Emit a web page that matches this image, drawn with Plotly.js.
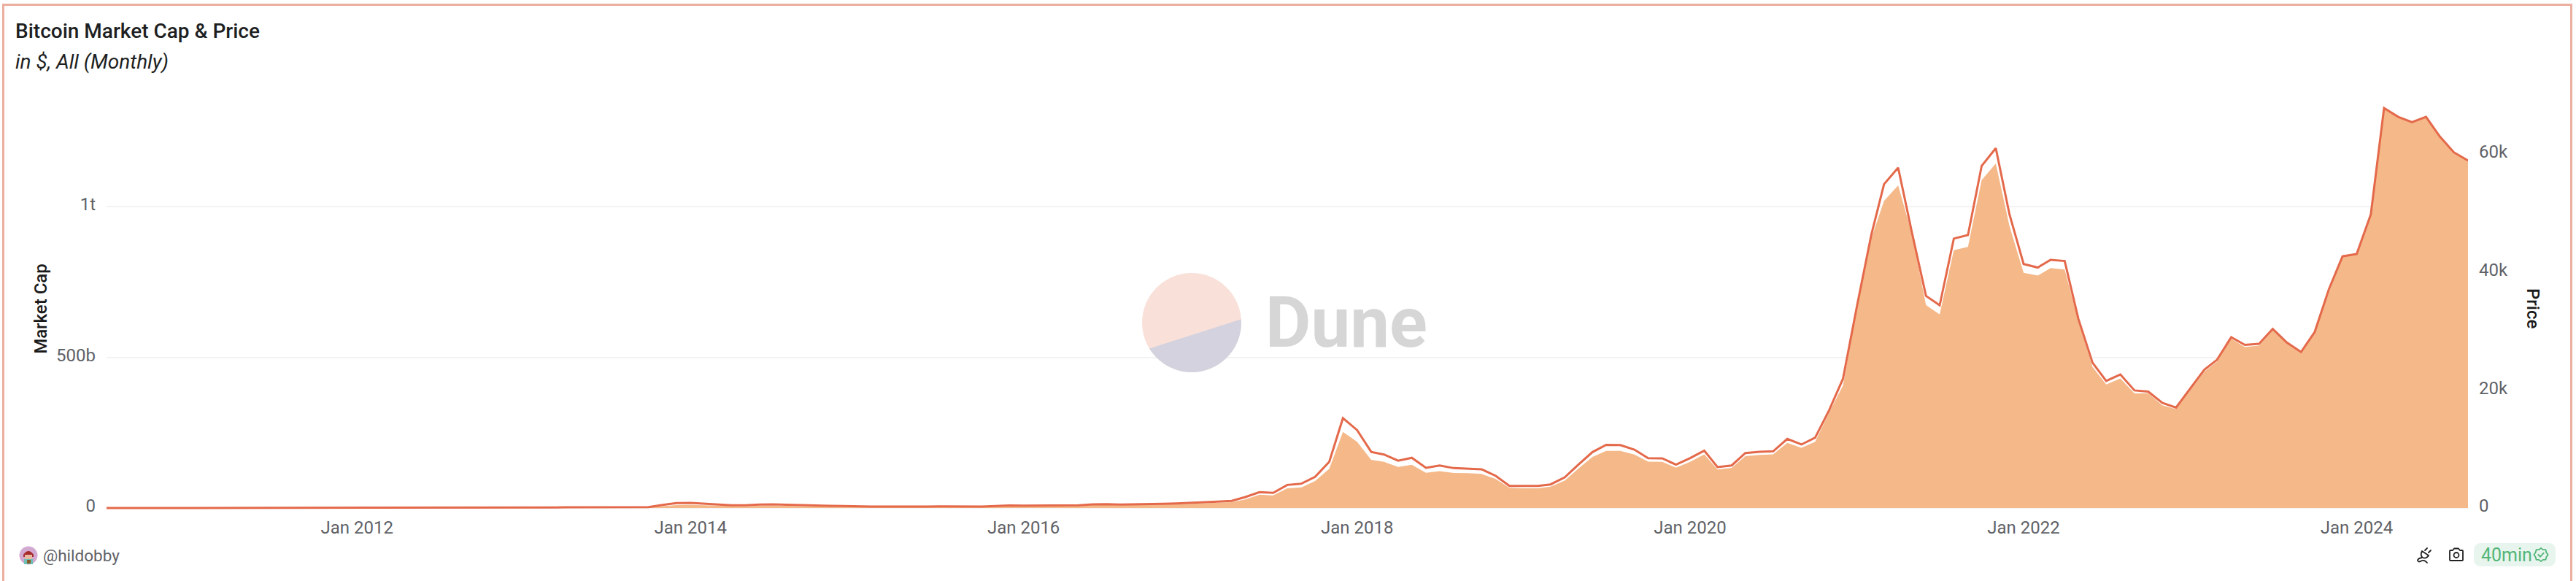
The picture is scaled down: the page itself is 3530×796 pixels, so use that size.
<!DOCTYPE html>
<html>
<head>
<meta charset="utf-8">
<script src="https://cdn.plot.ly/plotly-3.0.1.min.js"></script>
<style>
    html, body { margin: 0; padding: 0; background: #fff; overflow: hidden; }
    #chart { position: absolute; left: 0; top: 0; width: 3530px; height: 796px; }
    #frame { position: absolute; left: 3px; top: 5px; width: 3516px; height: 800px; border: 3px solid #ecae9e; pointer-events: none; }
</style>
</head>
<body>
<div id="chart"></div>
<div id="frame"></div>
<script>
// first month of the series, then one value per month
const startYear = 2010
const startMonth = 7

// price in $, monthly
const price2010 = [0.07, 0.07, 0.06, 0.1, 0.2, 0.25]
const price2011 = [0.4, 0.9, 0.9, 0.8, 4, 16, 14, 10, 6, 3.5, 2.8, 3.5]
const price2012 = [6, 5, 5, 5, 5, 6, 8, 11, 12, 11, 11, 13]
const price2013 = [20, 30, 80, 130, 120, 100, 95, 120, 130, 150, 530, 820]
const price2014 = [850, 700, 600, 470, 470, 600, 620, 550, 450, 380, 380, 350]
const price2015 = [250, 240, 260, 240, 240, 240, 280, 250, 230, 260, 330, 420]
const price2016 = [400, 400, 410, 430, 450, 620, 660, 580, 600, 620, 720, 780]
const price2017 = [860, 1000, 1070, 1200, 1850, 2680, 2560, 3910, 4120, 5270, 7820, 15200]
const price2018 = [13200, 9500, 9050, 8000, 8500, 6800, 7200, 6750, 6670, 6550, 5440, 3750]
const price2019 = [3750, 3750, 3990, 5190, 7330, 9470, 10700, 10660, 9880, 8440, 8400, 7330]
const price2020 = [8440, 9720, 6920, 7200, 9300, 9510, 9600, 11700, 10750, 11900, 16600, 21870]
const price2021 = [34300, 46200, 54800, 57600, 46700, 35900, 34300, 45600, 46200, 57900, 60900, 49700]
const price2022 = [41300, 40700, 42000, 41800, 32000, 24600, 21500, 22600, 19900, 19700, 17800, 17000]
const price2023 = [20200, 23400, 25100, 28900, 27600, 27800, 30300, 28000, 26400, 29800, 37000, 42600]
const price2024 = [43000, 49700, 67700, 66200, 65300, 66200, 62900, 60200, 58800]

// market cap in $ billions, monthly
const cap2010 = [0, 0, 0, 0, 0.001, 0.001]
const cap2011 = [0.002, 0.005, 0.005, 0.005, 0.025, 0.1, 0.09, 0.065, 0.04, 0.025, 0.02, 0.03]
const cap2012 = [0.05, 0.04, 0.04, 0.045, 0.05, 0.06, 0.075, 0.1, 0.12, 0.11, 0.115, 0.14]
const cap2013 = [0.2, 0.3, 0.9, 1.4, 1.3, 1.1, 1.1, 1.4, 1.5, 1.8, 6, 9.5]
const cap2014 = [10, 8.5, 7.5, 5.8, 5.8, 7.5, 7.8, 7, 6, 5, 5, 4.7]
const cap2015 = [3.4, 3.3, 3.6, 3.4, 3.4, 3.4, 4, 3.6, 3.4, 3.8, 4.9, 6.3]
const cap2016 = [6, 6, 6.3, 6.7, 7, 9.8, 10.5, 9.2, 9.6, 10, 11.5, 12.5]
const cap2017 = [13.8, 16.2, 17.3, 19.5, 28.3, 44.3, 42, 65.4, 68.6, 89.6, 130, 252.6]
const cap2018 = [219.6, 160, 153, 136, 143.6, 117, 122, 116, 115.5, 113, 96, 67]
const cap2019 = [65.4, 65.4, 71, 91, 131, 169.5, 189.6, 189.6, 177.5, 154, 153, 134]
const cap2020 = [153, 178, 127.5, 133, 172, 176, 178, 216, 200, 220, 317, 406]
const cap2021 = [664, 894, 1019, 1070, 910, 673, 642, 855, 866, 1088, 1143, 935]
const cap2022 = [780, 771, 796, 791, 620, 468, 410, 430, 380, 381, 341, 328]
const cap2023 = [390, 452, 486, 562, 534, 539, 589, 547, 515, 581, 715, 833]
const cap2024 = [843, 973, 1327, 1298, 1280, 1298, 1233, 1181, 1153]

const price = [].concat(price2010, price2011, price2012, price2013, price2014, price2015, price2016,
    price2017, price2018, price2019, price2020, price2021, price2022, price2023, price2024)
const marketCap = [].concat(cap2010, cap2011, cap2012, cap2013, cap2014, cap2015, cap2016,
    cap2017, cap2018, cap2019, cap2020, cap2021, cap2022, cap2023, cap2024)

const months = price.map((_, i) => {
    const m = startMonth - 1 + i
    return (startYear + Math.floor(m / 12)) + "-" + String(m % 12 + 1).padStart(2, "0") + "-01"
})

const capTicks = [0, 500, 1000]
const capTickLabels = ["0", "500b", "1t"]
const priceTicks = [0, 20000, 40000, 60000]
const priceTickLabels = ["0", "20k", "40k", "60k"]

const FONT = "Roboto, 'Open Sans', sans-serif"
const GREY = "#5f6267"
const W = 3530, H = 796
// plot box runs a little below zero so the price line isn't cut in half at the baseline
const L = 146, R = 3382, T = 140, B = 706
const ZERO = 696

// page pixels to paper coordinates, for the furniture round the plot
const px = x => (x - L) / (R - L)
const py = y => (B - y) / (B - T)

function svgUri(w, h, body) {
    return "data:image/svg+xml;utf8," + encodeURIComponent(
        '<svg xmlns="http://www.w3.org/2000/svg" width="' + w + '" height="' + h + '" viewBox="0 0 ' + w + ' ' + h + '">' + body + '</svg>')
}

function pageImage(source, x, y, w, h) {
    return {
        source: source, xref: "paper", yref: "paper", x: px(x), y: py(y),
        sizex: w / (R - L), sizey: h / (B - T), sizing: "stretch",
        xanchor: "left", yanchor: "top", layer: "above",
    }
}

function pageText(text, x, y, size, color, extra) {
    return Object.assign({
        text: text, xref: "paper", yref: "paper", x: px(x), y: py(y),
        xanchor: "left", yanchor: "middle", showarrow: false,
        font: { family: FONT, size: size, color: color },
    }, extra || {})
}

const duneMark = svgUri(136, 136,
    '<clipPath id="c"><circle cx="68" cy="68" r="68"/></clipPath>' +
    '<g clip-path="url(#c)"><rect width="136" height="136" fill="#f9e1da"/>' +
    '<path d="M-10 110 L146 60 L146 146 L-10 146 Z" fill="#cfd0de" fill-opacity="0.9"/></g>')

const avatar = svgUri(26, 26,
    '<circle cx="13" cy="13" r="12.5" fill="#d3a9d2"/>' +
    '<path d="M6 12 Q13 2 20 12 L20 15 L6 15 Z" fill="#a52a2a"/>' +
    '<rect x="8" y="12" width="10" height="6" fill="#e8b8a0"/>' +
    '<path d="M7 25 L7 18 L19 18 L19 25 Z" fill="#6cc0b4"/>' +
    '<rect x="11" y="19" width="5" height="5" fill="#8a5a2a"/>')

const plugIcon = svgUri(24, 26,
    '<g fill="none" stroke="#222" stroke-width="1.8" stroke-linecap="round" stroke-linejoin="round">' +
    '<path d="M9 7 L18 13 Q15 18 10 16 Q6 13 9 7 Z"/><path d="M13 6 L16 3 M18 9 L21 6"/>' +
    '<path d="M9 16 Q3 17 3 20 Q4 23 9 20 Q13 19 16 23"/></g>')

const cameraIcon = svgUri(22, 20,
    '<g fill="none" stroke="#222" stroke-width="1.8" stroke-linejoin="round">' +
    '<path d="M2 5 Q2 4 3 4 L6 4 L8 1.5 L14 1.5 L16 4 L19 4 Q20 4 20 5 L20 17 Q20 18 19 18 L3 18 Q2 18 2 17 Z"/>' +
    '<circle cx="11" cy="10.5" r="3.5"/></g>')

const pill = svgUri(112, 32, '<rect width="112" height="32" rx="9" fill="#e8f5ee"/>')

const badge = svgUri(24, 24,
    '<g fill="none" stroke="#52b577" stroke-width="2" stroke-linejoin="round" stroke-linecap="round">' +
    '<path d="M12 2 L15 4.5 L19 4.5 L20 8.5 L22.5 12 L20 15.5 L19 19.5 L15 19.5 L12 22 L9 19.5 L5 19.5 L4 15.5 L1.5 12 L4 8.5 L5 4.5 L9 4.5 Z"/>' +
    '<path d="M8 12 L11 15 L16 9.5"/></g>')

Plotly.newPlot(
    document.getElementById("chart"),
    [{
        type: "scatter",
        mode: "lines",
        name: "Market Cap",
        x: months,
        y: marketCap,
        yaxis: "y",
        fill: "tozeroy",
        fillcolor: "#f4b889",
        line: { width: 0, color: "#f4b889" },
    }, {
        type: "scatter",
        mode: "lines",
        name: "Price",
        x: months,
        y: price,
        yaxis: "y2",
        line: { width: 3, color: "#e4694a" },
    }],
    {
        width: W,
        height: H,
        margin: { l: L, r: W - R, t: T, b: H - B, pad: 0 },
        paper_bgcolor: "#fff",
        plot_bgcolor: "#fff",
        showlegend: false,
        font: { family: FONT, size: 24, color: GREY },
        xaxis: {
            type: "date",
            range: [months[0], months[months.length - 1]],
            tick0: "2012-01-01",
            dtick: "M24",
            tickformat: "%b %Y",
            showgrid: false,
            zeroline: false,
            showline: false,
            ticks: "",
            ticklabelstandoff: 0,
            tickfont: { family: FONT, size: 24, color: GREY },
        },
        yaxis: {
            range: [-24.2, 1346.2],
            tickmode: "array",
            tickvals: capTicks,
            ticktext: capTickLabels,
            showgrid: true,
            gridcolor: "#f3f3f4",
            gridwidth: 2,
            zeroline: false,
            showline: false,
            ticks: "",
            ticklabelstandoff: 14,
            ticklabelshift: -3,
            tickfont: { family: FONT, size: 24, color: GREY },
            title: { text: "Market Cap", standoff: 5, font: { family: FONT, size: 24, color: "#1a1a1a", weight: 500 } },
            layer: "below traces",
        },
        yaxis2: {
            overlaying: "y",
            side: "right",
            range: [-1235, 68684],
            tickmode: "array",
            tickvals: priceTicks,
            ticktext: priceTickLabels,
            showgrid: false,
            zeroline: false,
            showline: false,
            ticks: "",
            ticklabelstandoff: 14,
            ticklabelshift: -3,
            tickfont: { family: FONT, size: 24, color: GREY },
        },
        // baseline goes under the traces, the price line sits on top of it while it is near zero
        shapes: [{
            type: "line", layer: "below", xref: "paper", yref: "paper",
            x0: 0, x1: 1, y0: py(ZERO + 0.5), y1: py(ZERO + 0.5),
            line: { color: "#222", width: 1 },
        }],
        images: [
            pageImage(duneMark, 1565, 374, 136, 136),
            pageImage(avatar, 26, 748, 26, 26),
            pageImage(plugIcon, 3310, 748, 24, 26),
            pageImage(cameraIcon, 3355, 750, 22, 20),
            pageImage(pill, 3390, 744, 112, 32),
            pageImage(badge, 3471, 749, 22, 22),
        ],
        annotations: [
            pageText("Bitcoin Market Cap &amp; Price", 19, 42, 28, "#1e1f22", { font: { family: FONT, size: 28, color: "#1e1f22", weight: 500 } }),
            pageText("<i>in $, All (Monthly)</i>", 19, 85, 28, "#1e1f22"),
            pageText("Dune", 1732, 442, 96, "#d6d6d6", { font: { family: FONT, size: 96, color: "#d6d6d6", weight: 700 } }),
            pageText("@hildobby", 57, 761, 22.5, GREY),
            pageText("40min", 3398, 760, 25, "#52b577"),
            // Price reads top to bottom in the original, an axis title can't turn that way
            pageText("Price", 3471, 422, 24, "#1a1a1a", { textangle: 90, xanchor: "center", font: { family: FONT, size: 24, color: "#1a1a1a", weight: 500 } }),
        ],
    },
    { displayModeBar: false, staticPlot: true }
)
</script>
</body>
</html>
